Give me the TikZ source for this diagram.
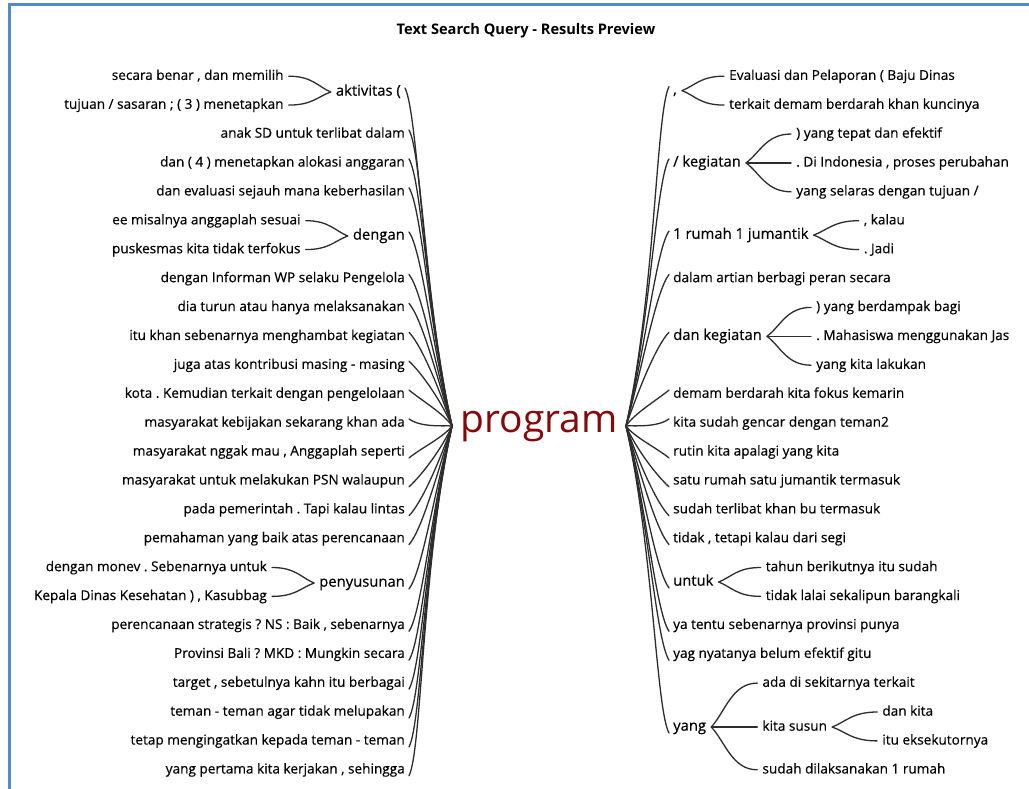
\documentclass[tikz,border=0pt]{standalone}
\usepackage{fontspec}
\setmainfont{Open Sans}
\newfontfamily\labelfont{Open Sans}[FakeBold=0.35]
\usetikzlibrary{calc}

\definecolor{frameblue}{RGB}{80,140,205}
\definecolor{hubred}{RGB}{135,8,10}
\definecolor{inkline}{RGB}{45,45,45}

\tikzset{
  leaf/.style={inner sep=0pt, text=black, yshift=-2pt, font=\labelfont\fontsize{13.6}{15}\selectfont},
  parent/.style={inner sep=0pt, text=black, yshift=-2pt, font=\labelfont\fontsize{14.8}{16}\selectfont},
  branch/.style={draw=inkline, line width=1.3pt, line cap=round},
  lleaf/.style={leaf, anchor=mid east},
  rleaf/.style={leaf, anchor=mid west},
}

% curve from a left-hand label to the left hub: a short hook at the label,
% a nearly vertical run, then a bend into the hub
\newcommand\toHubLeft[1]{%
  \draw[branch] let \p1=(#1.mid east), \p2=(hubL),
                    \n1={\y1-\y2}, \n2={sign(\y1-\y2)} in
    ({\x1+4pt},{\y1+5pt*\n2}) .. controls ({\x1+17pt},{\y1+5pt*\n2-0.05*\n1-9pt*\n2})
    and ({\x2-0.07*abs(\n1)-6pt},{\y2+0.4*\n1}) .. (hubL);}
% the same on the right-hand side
\newcommand\toHubRight[1]{%
  \draw[branch] let \p1=(#1.mid west), \p2=(hubR),
                    \n1={\y1-\y2}, \n2={sign(\y1-\y2)} in
    ({\x1-4pt},{\y1+5pt*\n2}) .. controls ({\x1-17pt},{\y1+5pt*\n2-0.05*\n1-9pt*\n2})
    and ({\x2+0.07*abs(\n1)+6pt},{\y2+0.4*\n1}) .. (hubR);}
% fork from a parent label to a child on its left
\newcommand\forkLeft[2]{%
  \draw[branch] let \p1=(#1.mid west), \p2=(#2.mid east) in
    ({\x1-5pt},{\y1+1pt}) .. controls ({\x1-5pt-0.25*(\x1-\x2)},{\y1+1pt+0.35*(\y2-\y1)})
    and ({\x2+5pt+0.45*(\x1-\x2)},{\y2+1pt}) .. ({\x2+5pt},{\y2+1pt});}
% fork from a parent label to a child on its right
\newcommand\forkRight[2]{%
  \draw[branch] let \p1=(#1.mid east), \p2=(#2.mid west) in
    ({\x1+5pt},{\y1+1pt}) .. controls ({\x1+5pt+0.25*(\x2-\x1)},{\y1+1pt+0.35*(\y2-\y1)})
    and ({\x2-5pt-0.45*(\x2-\x1)},{\y2+1pt}) .. ({\x2-5pt},{\y2+1pt});}

\begin{document}
\frenchspacing
\begin{tikzpicture}[x=1pt,y=-1pt]
\useasboundingbox (0,0) rectangle (1029,789);
\fill[white] (0,0) rectangle (1029,789);
\draw[frameblue, line width=3pt] (9.5,789) -- (9.5,5) -- (1029,5);

\node[font=\bfseries\fontsize{14.6}{16}\selectfont] (title) at (526,31) {Text Search Query - Results Preview};

% centre word and hubs
\node[inner sep=0pt, anchor=mid, text=hubred, font=\fontsize{39}{41}\selectfont] (prog) at (539,430) {program};
\coordinate (hubL) at (452,426);
\coordinate (hubR) at (626,426);

% ---------- left side ----------
\node[parent, anchor=mid east] (akt) at (401,91) {aktivitas (};
\node[lleaf, xshift=-52pt] (akt1) at (akt.mid west |- 0,75.2) {secara benar , dan memilih};
\node[lleaf, xshift=-52pt] (akt2) at (akt.mid west |- 0,104.1) {tujuan / sasaran ; ( 3 ) menetapkan};
\node[lleaf] (l1) at (405,133.0) {anak SD untuk terlibat dalam};
\node[lleaf] (l2) at (405,161.9) {dan ( 4 ) menetapkan alokasi anggaran};
\node[lleaf] (l3) at (405,190.8) {dan evaluasi sejauh mana keberhasilan};
\node[parent, anchor=mid east] (dgn) at (405,235) {dengan};
\node[lleaf, xshift=-52pt] (dgn1) at (dgn.mid west |- 0,219.7) {ee misalnya anggaplah sesuai};
\node[lleaf, xshift=-52pt] (dgn2) at (dgn.mid west |- 0,248.6) {puskesmas kita tidak terfokus};
\node[lleaf] (l4) at (405,277.5) {dengan Informan WP selaku Pengelola};
\node[lleaf] (l5) at (405,306.4) {dia turun atau hanya melaksanakan};
\node[lleaf] (l6) at (405,335.3) {itu khan sebenarnya menghambat kegiatan};
\node[lleaf] (l7) at (405,364.2) {juga atas kontribusi masing - masing};
\node[lleaf] (l8) at (405,393.1) {kota . Kemudian terkait dengan pengelolaan};
\node[lleaf] (l9) at (405,422.0) {masyarakat kebijakan sekarang khan ada};
\node[lleaf] (l10) at (405,450.9) {masyarakat nggak mau , Anggaplah seperti};
\node[lleaf] (l11) at (405,479.8) {masyarakat untuk melakukan PSN walaupun};
\node[lleaf] (l12) at (405,508.7) {pada pemerintah . Tapi kalau lintas};
\node[lleaf] (l13) at (405,537.6) {pemahaman yang baik atas perencanaan};
\node[parent, anchor=mid east] (pny) at (405,582) {penyusunan};
\node[lleaf, xshift=-52pt] (pny1) at (pny.mid west |- 0,566.5) {dengan monev . Sebenarnya untuk};
\node[lleaf, xshift=-52pt] (pny2) at (pny.mid west |- 0,595.4) {Kepala Dinas Kesehatan ) , Kasubbag};
\node[lleaf] (l14) at (405,624.3) {perencanaan strategis ? NS : Baik , sebenarnya};
\node[lleaf] (l15) at (405,653.2) {Provinsi Bali ? MKD : Mungkin secara};
\node[lleaf] (l16) at (405,682.1) {target , sebetulnya kahn itu berbagai};
\node[lleaf] (l17) at (405,711.0) {teman - teman agar tidak melupakan};
\node[lleaf] (l18) at (405,739.9) {tetap mengingatkan kepada teman - teman};
\node[lleaf] (l19) at (405,768.8) {yang pertama kita kerjakan , sehingga};

\foreach \lbl in {akt,l1,l2,l3,dgn,l4,l5,l6,l7,l8,l9,l10,l11,l12,l13,pny,l14,l15,l16,l17,l18,l19}
  {\toHubLeft{\lbl}}
\forkLeft{akt}{akt1}\forkLeft{akt}{akt2}
\forkLeft{dgn}{dgn1}\forkLeft{dgn}{dgn2}
\forkLeft{pny}{pny1}\forkLeft{pny}{pny2}

% ---------- right side ----------
\node[parent, anchor=mid west] (cma) at (673,89.6) {,};
\node[rleaf, xshift=52pt] (cma1) at (cma.mid east |- 0,75.2) {Evaluasi dan Pelaporan ( Baju Dinas};
\node[rleaf, xshift=52pt] (cma2) at (cma.mid east |- 0,104.1) {terkait demam berdarah khan kuncinya};
\node[parent, anchor=mid west] (keg) at (673,161.9) {/ kegiatan};
\node[rleaf, xshift=55pt] (keg1) at (keg.mid east |- 0,133.0) {) yang tepat dan efektif};
\node[rleaf, xshift=55pt] (keg2) at (keg.mid east |- 0,161.9) {. Di Indonesia , proses perubahan};
\node[rleaf, xshift=55pt] (keg3) at (keg.mid east |- 0,190.8) {yang selaras dengan tujuan /};
\node[parent, anchor=mid west] (jum) at (673,234.1) {1 rumah 1 jumantik};
\node[rleaf, xshift=55pt] (jum1) at (jum.mid east |- 0,219.7) {, kalau};
\node[rleaf, xshift=55pt] (jum2) at (jum.mid east |- 0,248.6) {. Jadi};
\node[rleaf] (r1) at (673,277.5) {dalam artian berbagi peran secara};
\node[parent, anchor=mid west] (dkg) at (673,335.3) {dan kegiatan};
\node[rleaf, xshift=54pt] (dkg1) at (dkg.mid east |- 0,306.4) {) yang berdampak bagi};
\node[rleaf, xshift=54pt] (dkg2) at (dkg.mid east |- 0,335.3) {. Mahasiswa menggunakan Jas};
\node[rleaf, xshift=54pt] (dkg3) at (dkg.mid east |- 0,364.2) {yang kita lakukan};
\node[rleaf] (r2) at (673,393.1) {demam berdarah kita fokus kemarin};
\node[rleaf] (r3) at (673,422.0) {kita sudah gencar dengan teman2};
\node[rleaf] (r4) at (673,450.9) {rutin kita apalagi yang kita};
\node[rleaf] (r5) at (673,479.8) {satu rumah satu jumantik termasuk};
\node[rleaf] (r6) at (673,508.7) {sudah terlibat khan bu termasuk};
\node[rleaf] (r7) at (673,537.6) {tidak , tetapi kalau dari segi};
\node[parent, anchor=mid west] (utk) at (673,581) {untuk};
\node[rleaf, xshift=52pt] (utk1) at (utk.mid east |- 0,566.5) {tahun berikutnya itu sudah};
\node[rleaf, xshift=52pt] (utk2) at (utk.mid east |- 0,595.4) {tidak lalai sekalipun barangkali};
\node[rleaf] (r8) at (673,624.3) {ya tentu sebenarnya provinsi punya};
\node[rleaf] (r9) at (673,653.2) {yag nyatanya belum efektif gitu};
\node[parent, anchor=mid west] (yng) at (673,726) {yang};
\node[rleaf, xshift=56pt] (yng1) at (yng.mid east |- 0,682.1) {ada di sekitarnya terkait};
\node[rleaf, xshift=56pt] (sus) at (yng.mid east |- 0,726) {kita susun};
\node[rleaf, xshift=56pt] (yng3) at (yng.mid east |- 0,768.8) {sudah dilaksanakan 1 rumah};
\node[rleaf, xshift=55pt] (sus1) at (sus.mid east |- 0,711.0) {dan kita};
\node[rleaf, xshift=55pt] (sus2) at (sus.mid east |- 0,739.9) {itu eksekutornya};

\foreach \lbl in {cma,keg,jum,r1,dkg,r2,r3,r4,r5,r6,r7,utk,r8,r9,yng}
  {\toHubRight{\lbl}}
\forkRight{cma}{cma1}\forkRight{cma}{cma2}
\forkRight{keg}{keg1}\forkRight{keg}{keg2}\forkRight{keg}{keg3}
\forkRight{jum}{jum1}\forkRight{jum}{jum2}
\forkRight{dkg}{dkg1}\forkRight{dkg}{dkg2}\forkRight{dkg}{dkg3}
\forkRight{utk}{utk1}\forkRight{utk}{utk2}
\forkRight{yng}{yng1}\forkRight{yng}{sus}\forkRight{yng}{yng3}
\forkRight{sus}{sus1}\forkRight{sus}{sus2}
\end{tikzpicture}
\end{document}
